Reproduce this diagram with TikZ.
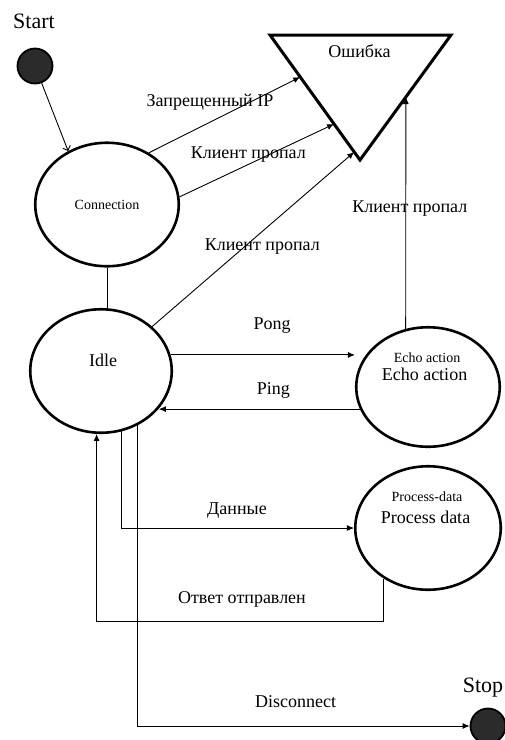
\documentclass[tikz,border=0pt]{standalone}
\usepackage{fontspec}
\setmainfont{Liberation Serif}
\usetikzlibrary{shapes.geometric,arrows.meta,calc}

\tikzset{
  state/.style={ellipse, draw, line width=2.6pt, inner sep=0pt},
  pseudo/.style={circle, draw, line width=1.8pt, fill=black!83, minimum size=#1, inner sep=0pt},
  lbl/.style={font=\fontsize{18}{21}\selectfont, inner sep=1pt, text height=12pt, text depth=4pt},
  small/.style={font=\fontsize{14}{16}\selectfont, inner sep=0pt},
  big/.style={font=\fontsize{22}{26}\selectfont, inner sep=0pt},
  trans/.style={->, line width=0.9pt},
}

\begin{document}
\begin{tikzpicture}[x=1pt, y=-1pt, >={Latex[length=7pt,width=6pt]}]

  \useasboundingbox (0,0) rectangle (505,740);

  % pseudo states
  \node[pseudo=35pt] (start) at (35,66) {};
  \node[big, anchor=base] (startT) at (34,28) {Start};
  \node[pseudo=35pt] (stop) at (488,726) {};
  \node[big, anchor=base] (stopT) at (483,692) {Stop};

  % states
  \node[state, small, minimum width=143.5pt, minimum height=123.5pt] (conn) at (107,204.5) {Connection};
  \node[state, minimum width=141.5pt, minimum height=123.5pt] (idle) at (101,371) {};
  \node[lbl, anchor=base] (idleT) at (103,366) {Idle};
  \node[state, minimum width=143.5pt, minimum height=119.5pt] (echo) at (428,387) {};
  \node[small, anchor=base] (echoA) at (427,362) {Echo action};
  \node[lbl, anchor=base] (echoB) at (424.5,380) {Echo action};
  \node[state, minimum width=145.5pt, minimum height=123.5pt] (proc) at (428,528) {};
  \node[small, anchor=base] (procA) at (427,501) {Process-data};
  \node[lbl, anchor=base] (procB) at (425.5,523) {Process data};

  % error triangle
  \coordinate (errL) at (270,35);
  \coordinate (errR) at (451,35);
  \coordinate (errT) at (360,160);
  \draw[line width=3pt, line join=miter] (errL) -- (errR) -- (errT) -- cycle;
  \node[lbl, anchor=base] (err) at (359.5,57) {Ошибка};
  \coordinate (errA) at ($(errL)!.336!(errT)$);
  \coordinate (errB) at ($(errL)!.712!(errT)$);
  \coordinate (errC) at ($(errL)!.936!(errT)$);
  \coordinate (errD) at ($(errR)!.496!(errT)$);

  \draw[line width=0.9pt, -{Straight Barb[length=4pt]}] (start) -- (conn.126);
  \draw[line width=0.9pt] (conn.south) -- (conn.south |- idle.north);

  \draw[trans] (conn.51)
  -- node[lbl, pos=.404, above=10.7pt] (lA) {Запрещенный IP} (errA);
  \draw[trans] (conn.6)
  -- node[lbl, pos=.445, above=0.5pt] (lB) {Клиент пропал} (errB);
  \draw[trans] (idle.41)
  -- node[lbl, pos=.545, below=5.7pt] (lC) {Клиент пропал} (errC);
  \draw[trans] (echo.111)
  -- node[lbl, pos=.502, anchor=base, xshift=4pt] (lD) {Клиент пропал} (errD);

  \draw[trans] (idle.13)
  -- node[lbl, pos=.55, above=20pt] (lPong) {Pong} (idle.13 -| echo.west);
  \draw[trans] (echo.198)
  -- node[lbl, pos=.43, above=9pt] (lPing) {Ping} (idle.-33.5 |- echo.198);

  \draw[trans] (idle.-71)
  |- node[lbl, pos=.748, above=8pt] (lData) {Данные} (proc.west);

  \coordinate (back) at (idle.-94.5 |- 0,621);
  \draw[trans] (proc.229)
  |- node[lbl, pos=.747, above=12pt] (lAns) {Ответ отправлен} (back)
  -- (idle.-94.5);

  \draw[trans] (idle.-56.6)
  |- node[lbl, pos=.738, above=13pt] (lDisc) {Disconnect} (stop.west);

\end{tikzpicture}
\end{document}
